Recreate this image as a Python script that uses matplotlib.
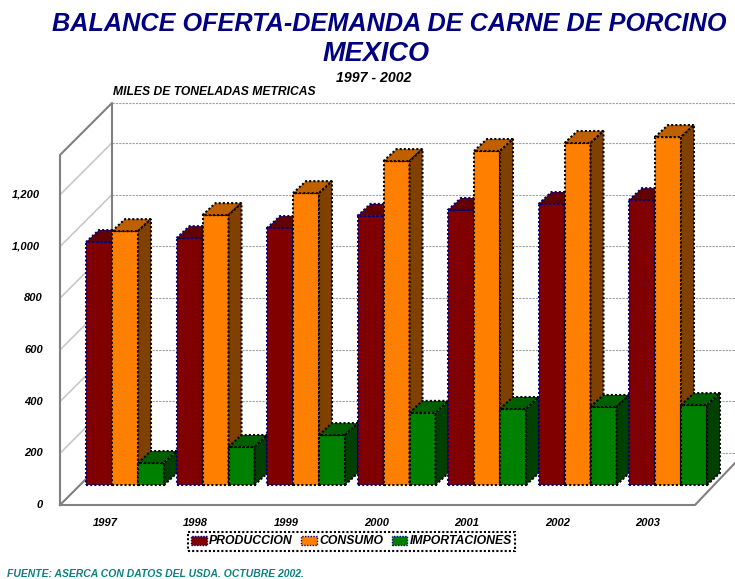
# -*- coding: utf-8 -*-
import matplotlib
matplotlib.use("Agg")
import matplotlib.pyplot as plt
from matplotlib.patches import Polygon, Patch

plt.rcParams['font.family'] = ['Liberation Sans', 'DejaVu Sans']

years = ['1997', '1998', '1999', '2000', '2001', '2002', '2003']
produccion = [940, 955, 994, 1041, 1064, 1087, 1102]
consumo = [982, 1044, 1129, 1253, 1292, 1323, 1346]
importaciones = [85, 147, 193, 279, 294, 302, 309]
ticks = [0, 200, 400, 600, 800, 1000, 1200]
tick_labels = ['0', '200', '400', '600', '800', '1,000', '1,200']
y_top = 1354

# escalas : 1 grupo = 90.5 px, 1 unidad = 0.2585 px
px_group = 90.5
px_val = 0.2585
bar_w = 26 / px_group
bar_dx = 13 / px_group
bar_dy = 12 / px_val
front_y = -20 / px_val     # linea frontal del piso
back_y = 32 / px_val       # linea trasera del piso
wall_x = -26 / px_group    # esquina frontal izquierda
back_x = 26 / px_group     # pared del fondo
floor_r = 609 / px_group   # esquina frontal derecha
dots = (0, (1, 1))


def bar3d(ax, x, v, col, top, side, edge, z):
    ax.bar(x, v, bar_w, align='edge', color=col, edgecolor=edge, linewidth=1.5,
           linestyle=dots, zorder=z)
    ax.add_patch(Polygon([(x, v), (x + bar_dx, v + bar_dy), (x + bar_w + bar_dx, v + bar_dy), (x + bar_w, v)],
                         facecolor=top, edgecolor=edge, linewidth=1.5, linestyle=dots, zorder=z))
    ax.add_patch(Polygon([(x + bar_w, 0), (x + bar_w + bar_dx, bar_dy), (x + bar_w + bar_dx, v + bar_dy), (x + bar_w, v)],
                         facecolor=side, edgecolor=edge, linewidth=1.5, linestyle=dots, zorder=z))


fig = plt.figure(figsize=(7.35, 5.79), dpi=100)
ax = fig.add_axes([0, 0, 1, 1])
ax.set_xlim(-86 / px_group, (735 - 86) / px_group)
ax.set_ylim(-(579 - 485) / px_val, 485 / px_val)
ax.axis('off')

# paredes y rejilla
for t in ticks[1:]:
    ax.plot([wall_x, back_x], [front_y + t, back_y + t], color='#c8c8c8', lw=1.2, zorder=1)
for t in ticks + [y_top]:
    ax.plot([back_x, 8], [back_y + t, back_y + t], color='#a0a0a0', lw=0.8, ls=(0, (2, 1)), zorder=1)
ax.plot([wall_x, wall_x, back_x, back_x, wall_x],
        [front_y, front_y + y_top, back_y + y_top, back_y, front_y],
        color='#808080', lw=1.5, zorder=2)
ax.plot([wall_x, floor_r, floor_r + 40 / px_group], [front_y, front_y, front_y + 42 / px_val],
        color='#808080', lw=1.5, zorder=2)

# barras
for i in range(len(years)):
    x = i
    bar3d(ax, x, produccion[i], '#800000', '#600000', '#600000', 'navy', 3 + i * 3)
    bar3d(ax, x + bar_w, consumo[i], '#ff8000', '#bf6000', '#804000', 'black', 4 + i * 3)
    bar3d(ax, x + 2 * bar_w, importaciones[i], '#008000', '#006000', '#004000', 'black', 5 + i * 3)
    ax.text(x + 19 / px_group, -37.5 / px_val, years[i], fontsize=8, fontweight='bold', style='italic',
            ha='center', va='center')

for t, lab in zip(ticks, tick_labels):
    right = -46 / px_group if ',' in lab else -43 / px_group
    ax.text(right, front_y + t, lab, fontsize=8, fontweight='bold', style='italic',
            ha='right', va='center')

# textos
fig.text(389.5 / 735, 1 - 24 / 579, 'BALANCE OFERTA-DEMANDA DE CARNE DE PORCINO', fontsize=18.2, fontweight='bold',
         style='italic', color='#000080', ha='center', va='center')
fig.text(376 / 735, 1 - 54 / 579, 'MEXICO', fontsize=19.5, fontweight='bold', style='italic', color='#000080',
         ha='center', va='center')
fig.text(374 / 735, 1 - 78 / 579, '1997 - 2002', fontsize=10.2, fontweight='bold', style='italic', ha='center', va='center')
fig.text(113 / 735, 1 - 92 / 579, 'MILES DE TONELADAS METRICAS', fontsize=8.7, fontweight='bold', style='italic',
         ha='left', va='center')
fig.text(7 / 735, 1 - 574 / 579, 'FUENTE: ASERCA CON DATOS DEL USDA. OCTUBRE 2002.', fontsize=7.45, fontweight='bold',
         style='italic', color='#0e8080', ha='left', va='center')

handles = [Patch(facecolor='#800000', edgecolor='navy', linestyle=dots),
           Patch(facecolor='#ff8000', edgecolor='navy', linestyle=dots),
           Patch(facecolor='#008000', edgecolor='navy', linestyle=dots)]
leg = fig.legend(handles, ['PRODUCCION', 'CONSUMO', 'IMPORTACIONES'], ncol=3, loc='center',
                 bbox_to_anchor=(351.5 / 735, 1 - 541.5 / 579), fancybox=False, framealpha=1,
                 edgecolor='black', handlelength=1.25, handleheight=0.8, handletextpad=0.2, columnspacing=0.7,
                 borderpad=0.25, borderaxespad=0,
                 prop={'size': 8.8, 'weight': 'bold', 'style': 'italic'})
leg.get_frame().set_linestyle(dots)
leg.get_frame().set_linewidth(1.5)

fig.savefig('out.png', dpi=100)
